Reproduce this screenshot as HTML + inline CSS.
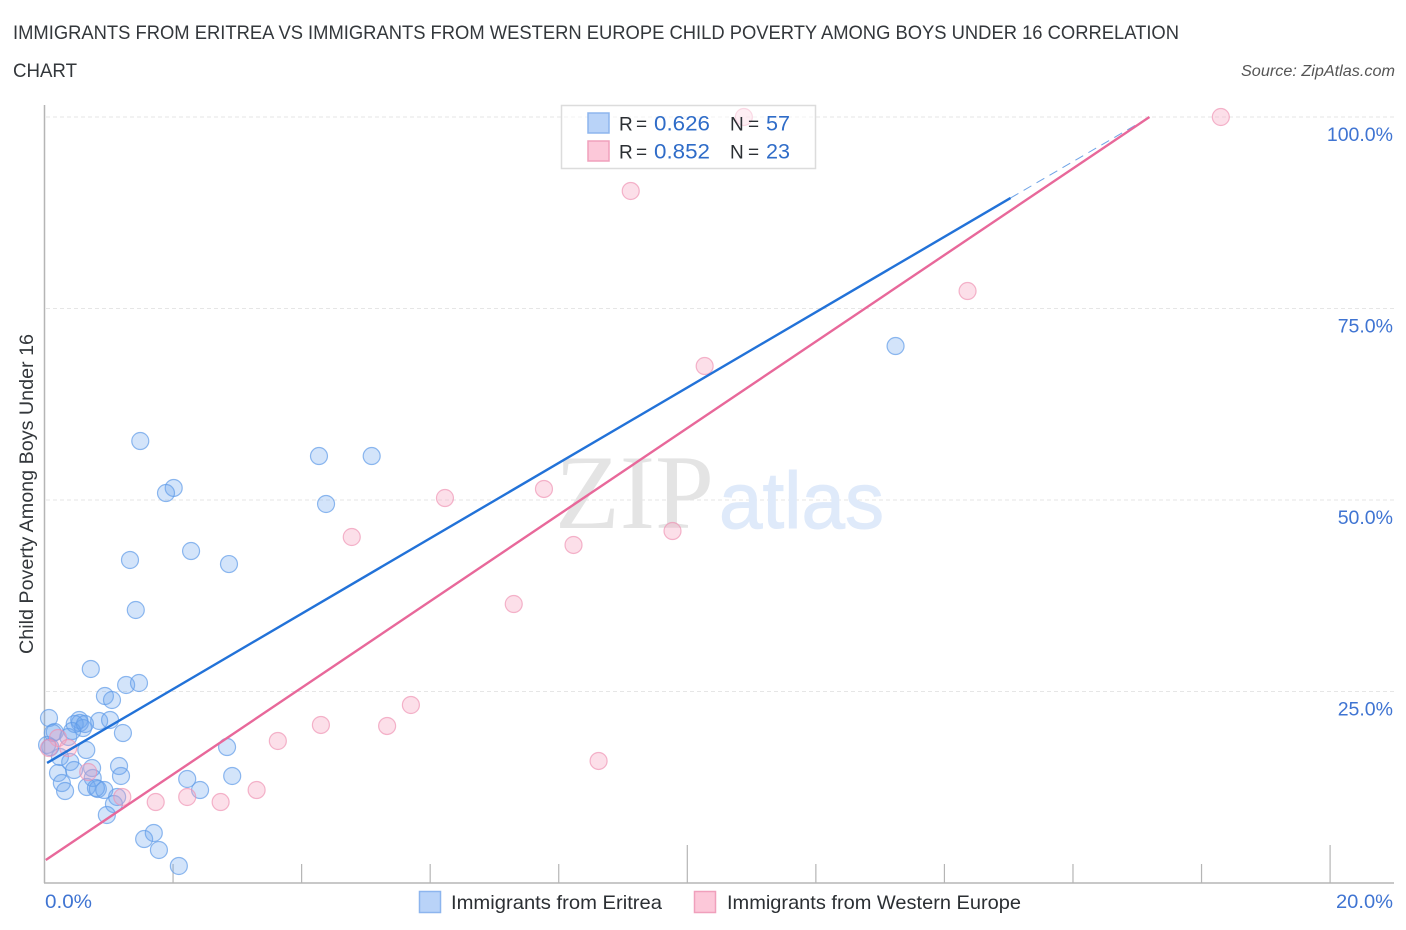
<!DOCTYPE html>
<html lang="en">
<head>
<meta charset="utf-8">
<title>Immigrants from Eritrea vs Immigrants from Western Europe Child Poverty Correlation Chart</title>
<style>
html,body{margin:0;padding:0;background:#fff;}
svg{display:block;font-family:"Liberation Sans",sans-serif;}
</style>
</head>
<body>
<svg id="chart" xmlns="http://www.w3.org/2000/svg" width="1406" height="930" viewBox="0 0 1406 930">
  <text x="13" y="39" font-size="19" fill="#33373b" textLength="1166" lengthAdjust="spacingAndGlyphs">IMMIGRANTS FROM ERITREA VS IMMIGRANTS FROM WESTERN EUROPE CHILD POVERTY AMONG BOYS UNDER 16 CORRELATION</text>
  <text x="13" y="77" font-size="19" fill="#33373b" textLength="64" lengthAdjust="spacingAndGlyphs">CHART</text>
  <text x="1395" y="76" font-size="15.5" font-style="italic" fill="#555" text-anchor="end" textLength="154" lengthAdjust="spacingAndGlyphs">Source: ZipAtlas.com</text>

  <g id="grid"></g>
  <g>
    <text x="555" y="528" font-family="'Liberation Serif',serif" font-size="106" fill="#e4e4e4" textLength="159" lengthAdjust="spacingAndGlyphs">ZIP</text>
    <text x="719" y="528" font-size="80" fill="#dfeafa" stroke="#dfeafa" stroke-width="1" textLength="165" lengthAdjust="spacingAndGlyphs">atlas</text>
  </g>
  <g id="axes"></g>
  <g id="points"></g>
  <g id="lines"></g>

  <text transform="translate(33,494) rotate(-90)" font-size="19" fill="#33373b" text-anchor="middle" textLength="320" lengthAdjust="spacingAndGlyphs">Child Poverty Among Boys Under 16</text>

  <g>
    <rect x="561.5" y="105.5" width="254" height="63" fill="#fff" fill-opacity="0.5" stroke="#dcdcdc" stroke-width="1.5"/>
    <rect x="588" y="113" width="21" height="20" fill="#b9d3f8" stroke="#8db5ee" stroke-width="1.5"/>
    <rect x="588" y="141" width="21" height="20" fill="#fcc8d9" stroke="#f0a0bc" stroke-width="1.5"/>
    <text y="130.5" font-size="19" fill="#2b2f33"><tspan x="619">R</tspan> <tspan x="636">=</tspan></text>
    <text x="654" y="130.5" font-size="21" fill="#2f6cc8" textLength="56" lengthAdjust="spacingAndGlyphs">0.626</text>
    <text y="130.5" font-size="19" fill="#2b2f33"><tspan x="730">N</tspan> <tspan x="748">=</tspan></text>
    <text x="766" y="130.5" font-size="21" fill="#2f6cc8" textLength="24" lengthAdjust="spacingAndGlyphs">57</text>
    <text y="158.5" font-size="19" fill="#2b2f33"><tspan x="619">R</tspan> <tspan x="636">=</tspan></text>
    <text x="654" y="158.5" font-size="21" fill="#2f6cc8" textLength="56" lengthAdjust="spacingAndGlyphs">0.852</text>
    <text y="158.5" font-size="19" fill="#2b2f33"><tspan x="730">N</tspan> <tspan x="748">=</tspan></text>
    <text x="766" y="158.5" font-size="21" fill="#2f6cc8" textLength="24" lengthAdjust="spacingAndGlyphs">23</text>
  </g>

  <g>
    <rect x="419.5" y="891.5" width="21" height="21" fill="#b9d3f8" stroke="#8db5ee" stroke-width="1.5"/>
    <text x="451" y="909" font-size="19.5" fill="#2b2f33" textLength="211" lengthAdjust="spacingAndGlyphs">Immigrants from Eritrea</text>
    <rect x="694.5" y="891.5" width="21" height="21" fill="#fcc8d9" stroke="#f0a0bc" stroke-width="1.5"/>
    <text x="727" y="909" font-size="19.5" fill="#2b2f33" textLength="294" lengthAdjust="spacingAndGlyphs">Immigrants from Western Europe</text>
  </g>
</svg>
<script>
// Chart data (percent values)
const yTickValues = [100, 75, 50, 25];
const yTickLabels = ["100.0%", "75.0%", "50.0%", "25.0%"];
const xTickValues = [0, 2, 4, 6, 8, 10, 12, 14, 16, 18, 20];
const xMajorTicks = [0, 10, 20];
const xEndLabels = ["0.0%", "20.0%"];
const eritreaX = [1.49,4.27,5.09,2.01,1.89,4.38,2.28,1.33,2.87,1.42,13.24,0.72,1.27,1.47,0.94,1.05,0.07,0.54,0.85,1.02,1.22,0.16,0.37,0.55,0.47,0.60,0.43,0.13,0.65,0.09,0.04,0.24,0.40,0.46,0.21,0.27,0.32,0.74,1.16,1.19,0.75,0.66,0.83,0.80,0.93,1.13,1.08,0.97,2.22,2.42,2.92,2.84,1.55,1.70,1.78,2.09,0.63];
const eritreaY = [57.70,55.74,55.74,51.57,50.91,49.48,43.34,42.17,41.64,35.64,70.10,27.94,25.85,26.11,24.41,23.89,21.54,21.28,21.15,21.28,19.58,19.71,19.06,20.89,20.76,20.23,19.84,19.58,17.36,17.75,18.02,16.45,15.80,14.75,14.36,13.05,12.01,15.01,15.27,13.97,13.71,12.53,12.27,12.40,12.14,11.23,10.31,8.88,13.58,12.14,13.97,17.75,5.74,6.53,4.31,2.22,20.76];
const europeX = [18.30,10.88,9.12,14.36,10.27,6.23,7.77,4.78,8.23,9.77,7.30,5.70,4.30,5.33,3.63,8.62,3.30,2.22,2.74,1.73,1.21,0.68,0.21,0.37,0.07];
const europeY = [100,100,90.34,77.28,67.49,50.26,51.44,45.17,44.13,45.95,36.42,23.24,20.63,20.50,18.54,15.93,12.14,11.23,10.57,10.57,11.23,14.49,18.93,17.62,17.62];
const eritreaTrendX = [0.04, 15.03];
const eritreaTrendY = [15.67, 89.43];
const eritreaDashX = [15.03, 17.19];
const eritreaDashY = [89.43, 100];
const europeTrendX = [0.02, 17.19];
const europeTrendY = [3.0, 100];

const NS = "http://www.w3.org/2000/svg";
function sx(v) { return 44.5 + v * 64.28; }
function sy(v) { return 883 - v * 7.66; }
function mk(tag, parent, attrs) {
  const el = document.createElementNS(NS, tag);
  for (const k in attrs) el.setAttribute(k, attrs[k]);
  parent.appendChild(el);
  return el;
}

const grid = document.getElementById("grid");
const axes = document.getElementById("axes");
const points = document.getElementById("points");
const lines = document.getElementById("lines");

yTickValues.forEach(function (v, i) {
  const g = mk("line", grid, {x1: 46, x2: 1395, y1: sy(v), y2: sy(v), stroke: "#e6e6e6", "stroke-width": 1, "stroke-dasharray": "4 3"});
  
  
  const t = mk("text", axes, {x: 1393, y: sy(v) + 24, "font-size": 19.5, fill: "#3f74d2", "text-anchor": "end"});
  t.textContent = yTickLabels[i];
  
  
});

const yAxis = mk("line", axes, {x1: 44.5, x2: 44.5, y1: 105, y2: 883, stroke: "#b5b5b5", "stroke-width": 1.5});


const xAxis = mk("line", axes, {x1: 44, x2: 1394, y1: 883, y2: 883, stroke: "#b5b5b5", "stroke-width": 1.5});



xTickValues.forEach(function (v) {
  if (v === 0) return;
  const top = xMajorTicks.indexOf(v) >= 0 ? 845 : 864;
  const tick = mk("line", axes, {x1: sx(v), x2: sx(v), y1: top, y2: 883, stroke: "#b5b5b5", "stroke-width": 1.2});
  
  
});

const xLabelLeft = mk("text", axes, {x: 45, y: 908, "font-size": 19.5, fill: "#3f74d2", textLength: 47, lengthAdjust: "spacingAndGlyphs"});
xLabelLeft.textContent = xEndLabels[0];


const xLabelRight = mk("text", axes, {x: 1336, y: 908, "font-size": 19.5, fill: "#3f74d2", textLength: 57, lengthAdjust: "spacingAndGlyphs"});
xLabelRight.textContent = xEndLabels[1];



eritreaX.forEach(function (v, i) {
  const c = mk("circle", points, {cx: sx(v), cy: sy(eritreaY[i]), r: 8.5, fill: "#6ea4ee", "fill-opacity": 0.3, stroke: "#5f9be8", "stroke-opacity": 0.7, "stroke-width": 1.2});
  
  
});
europeX.forEach(function (v, i) {
  const c = mk("circle", points, {cx: sx(v), cy: sy(europeY[i]), r: 8.5, fill: "#f5a3bf", "fill-opacity": 0.35, stroke: "#ee8fb0", "stroke-opacity": 0.65, "stroke-width": 1.2});
  
  
});

const dash = mk("line", lines, {x1: sx(eritreaDashX[0]), y1: sy(eritreaDashY[0]), x2: sx(eritreaDashX[1]), y2: sy(eritreaDashY[1]), stroke: "#6fa3e6", "stroke-width": 1, "stroke-dasharray": "9 6"});


const blueLine = mk("line", lines, {x1: sx(eritreaTrendX[0]), y1: sy(eritreaTrendY[0]), x2: sx(eritreaTrendX[1]), y2: sy(eritreaTrendY[1]), stroke: "#2272d8", "stroke-width": 2.4});


const pinkLine = mk("line", lines, {x1: sx(europeTrendX[0]), y1: sy(europeTrendY[0]), x2: sx(europeTrendX[1]), y2: sy(europeTrendY[1]), stroke: "#e8689a", "stroke-width": 2.4});


</script>
</body>
</html>
